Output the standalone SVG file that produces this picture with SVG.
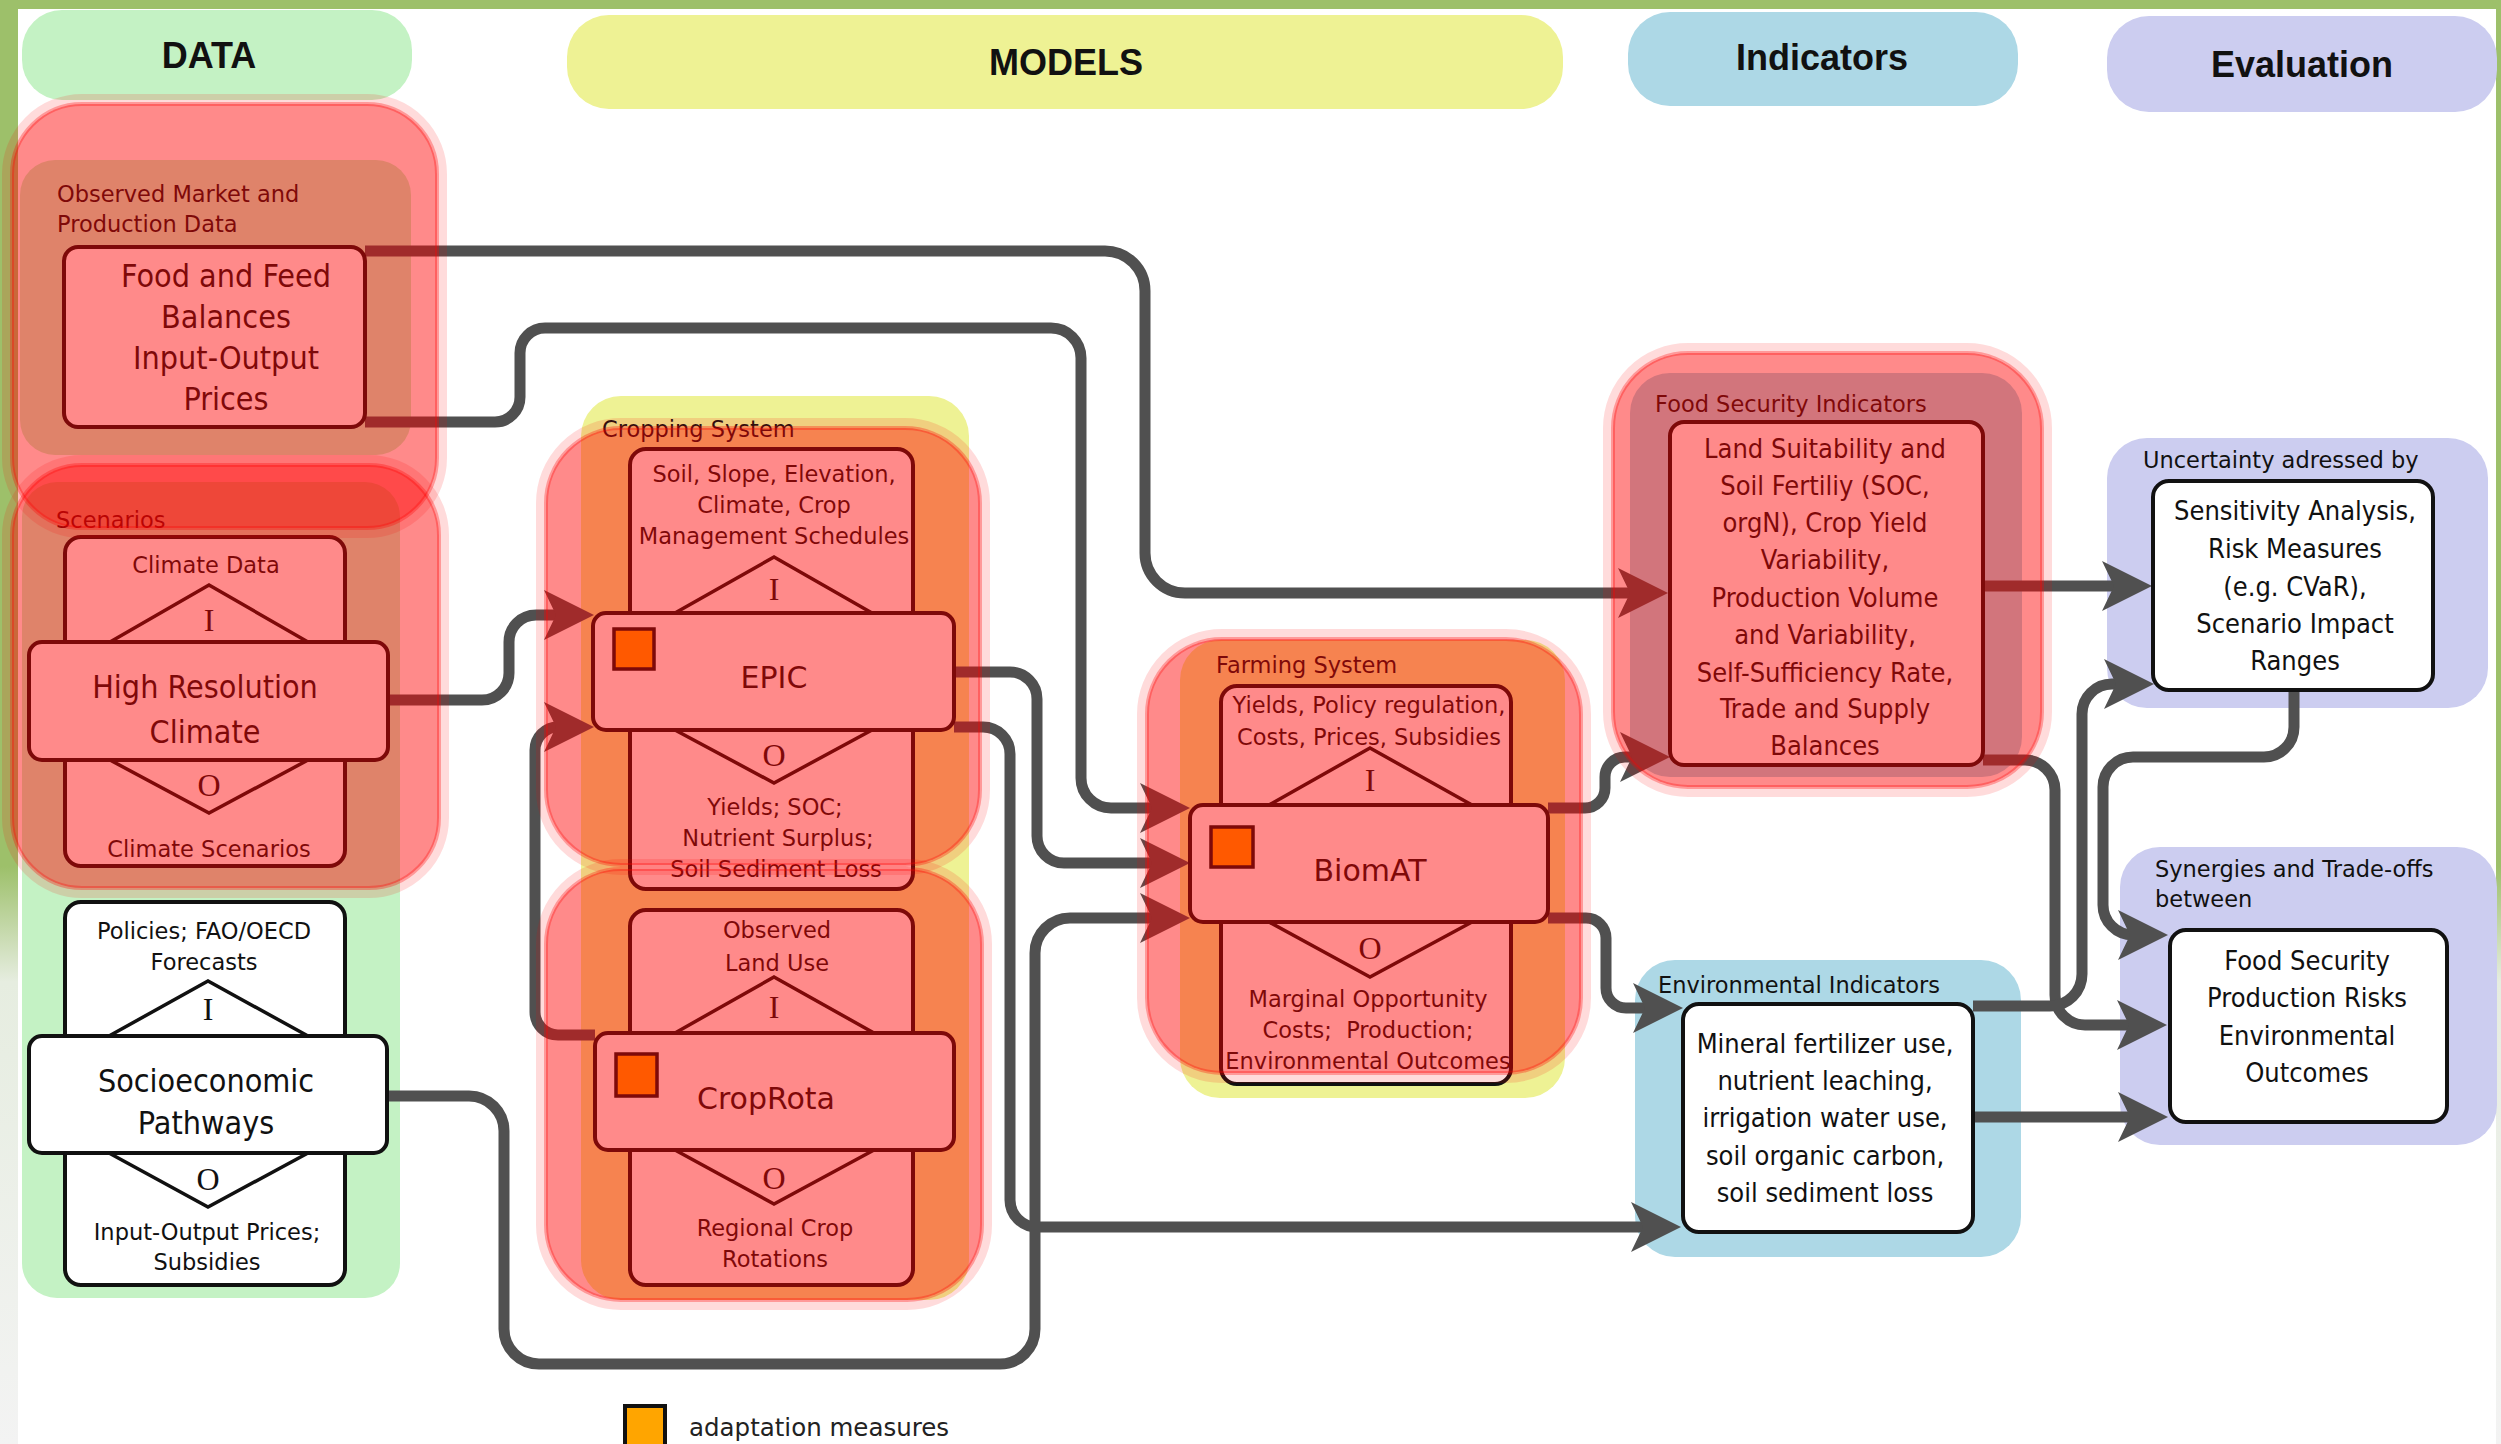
<svg xmlns="http://www.w3.org/2000/svg" width="2501" height="1444" viewBox="0 0 2501 1444">
<defs>
<style>
.hdr{font-family:"Liberation Sans",Arial,sans-serif;font-weight:bold;font-size:36px;fill:#111;text-anchor:middle}
.grp{font-family:"DejaVu Sans",Verdana,sans-serif;font-size:22.5px;fill:#111}
.sm{font-family:"DejaVu Sans",Verdana,sans-serif;font-size:22.5px;fill:#111;text-anchor:middle}
.big{font-family:"DejaVu Sans Condensed","DejaVu Sans",sans-serif;font-stretch:condensed;font-size:32px;fill:#111;text-anchor:middle}
.mdl{font-family:"DejaVu Sans",Verdana,sans-serif;font-size:30px;fill:#111;text-anchor:middle}
.ind{font-family:"DejaVu Sans Condensed","DejaVu Sans",sans-serif;font-stretch:condensed;font-size:27px;fill:#111;text-anchor:middle}
.io{font-family:"Liberation Serif","Times New Roman",serif;font-size:32px;fill:#111;text-anchor:middle}
.leg{font-family:"DejaVu Sans",Verdana,sans-serif;font-size:24.5px;fill:#222}
.box{fill:#fff;stroke:#111;stroke-width:4}
.tri{fill:#fff;stroke:#111;stroke-width:3.5}
.sq{fill:#ffa500;stroke:#111;stroke-width:3.5}
.conn{fill:none;stroke:#505050;stroke-width:11;marker-end:url(#arr)}
.hl{fill:#ff0000;fill-opacity:.46;stroke:#ff0000;stroke-opacity:.3;stroke-width:4}
.halo{fill:none;stroke:#ff0000;stroke-opacity:.14;stroke-width:10}
.green{fill:#c4f2c4}
.yellow{fill:#eef294}
.blue{fill:#add8e6}
.purple{fill:#cccdf0}
</style>
<linearGradient id="strip" x1="0" y1="0" x2="0" y2="1">
<stop offset="0" stop-color="#9dc06a"/>
<stop offset="0.6" stop-color="#9dc06a"/>
<stop offset="0.68" stop-color="#e6ede0"/>
<stop offset="1" stop-color="#f3f3f3"/>
</linearGradient>
<marker id="arr" markerUnits="userSpaceOnUse" markerWidth="60" markerHeight="60" viewBox="0 0 60 60" refX="20" refY="30" orient="auto">
<path d="M50,30 L0,5 L12,30 L0,55 Z" fill="#505050"/>
</marker>
</defs>

<g id="frame">
<rect x="0" y="0" width="2501" height="1444" fill="#ffffff"/>
<rect x="0" y="0" width="18" height="1444" fill="url(#strip)"/>
<rect x="2496" y="0" width="5" height="1444" fill="url(#strip)"/>
<rect x="0" y="0" width="2501" height="9" fill="#9dc06a"/>
</g>

<g id="lanes">
<rect class="green" x="22" y="10" width="390" height="90" rx="40"/>
<text class="hdr" x="209" y="68">DATA</text>
<rect class="yellow" x="567" y="15" width="996" height="94" rx="42"/>
<text class="hdr" x="1066" y="75">MODELS</text>
<rect class="blue" x="1628" y="12" width="390" height="94" rx="42"/>
<text class="hdr" x="1822" y="70">Indicators</text>
<rect class="purple" x="2107" y="16" width="390" height="96" rx="42"/>
<text class="hdr" x="2302" y="77">Evaluation</text>
</g>

<g id="containers">
<rect class="green" x="20" y="160" width="391" height="295" rx="35"/>
<text class="grp" x="57" y="202">Observed Market and</text>
<text class="grp" x="57" y="232">Production Data</text>
<rect class="green" x="22" y="482" width="378" height="816" rx="35"/>
<text class="grp" x="56" y="528">Scenarios</text>
<rect class="yellow" x="581" y="396" width="388" height="904" rx="40"/>
<text class="grp" x="602" y="437">Cropping System</text>
<rect class="yellow" x="1180" y="640" width="385" height="458" rx="40"/>
<text class="grp" x="1216" y="673">Farming System</text>
<rect class="blue" x="1630" y="373" width="392" height="404" rx="40"/>
<text class="grp" x="1655" y="412">Food Security Indicators</text>
<rect class="blue" x="1635" y="960" width="386" height="297" rx="40"/>
<text class="grp" x="1658" y="993">Environmental Indicators</text>
<rect class="purple" x="2107" y="438" width="381" height="270" rx="40"/>
<text class="grp" x="2143" y="468">Uncertainty adressed by</text>
<rect class="purple" x="2120" y="847" width="377" height="298" rx="40"/>
<text class="grp" x="2155" y="877">Synergies and Trade-offs</text>
<text class="grp" x="2155" y="907">between</text>
</g>

<g id="connectors">
<path class="conn" d="M365,251 H1105 A40,40 0 0 1 1145,291 V553 A40,40 0 0 0 1185,593 H1638"/>
<path class="conn" d="M365,422 H495 A25,25 0 0 0 520,397 V353 A25,25 0 0 1 545,328 H1051 A30,30 0 0 1 1081,358 V778 A30,30 0 0 0 1111,808 H1160"/>
<path class="conn" d="M389,700 H482 A27,27 0 0 0 509,673 V642 A27,27 0 0 1 536,615 H564"/>
<path class="conn" d="M595,1035 H558 A23,23 0 0 1 535,1012 V750 A23,23 0 0 1 558,727 H564"/>
<path class="conn" d="M954,672 H1010 A27,27 0 0 1 1037,699 V836 A27,27 0 0 0 1064,863 H1160"/>
<path class="conn" d="M954,727 H983 A27,27 0 0 1 1010,754 V1200 A27,27 0 0 0 1037,1227 H1651"/>
<path class="conn" d="M388,1096 H469 A35,35 0 0 1 504,1131 V1329 A35,35 0 0 0 539,1364 H1000 A35,35 0 0 0 1035,1329 V953 A35,35 0 0 1 1070,918 H1160"/>
<path class="conn" d="M1548,808 H1585 A20,20 0 0 0 1605,788 V777 A20,20 0 0 1 1625,757 H1640"/>
<path class="conn" d="M1548,918 H1586 A20,20 0 0 1 1606,938 V988 A20,20 0 0 0 1626,1008 H1653"/>
<path class="conn" d="M1983,586 H2122"/>
<path class="conn" d="M1983,760 H2025 A30,30 0 0 1 2055,790 V995 A30,30 0 0 0 2085,1025 H2137"/>
<path class="conn" d="M1973,1006 H2050 A32,32 0 0 0 2082,974 V714 A30,30 0 0 1 2112,684 H2124"/>
<path class="conn" d="M2294,690 V727 A30,30 0 0 1 2264,757 H2133 A30,30 0 0 0 2103,787 V905 A30,30 0 0 0 2133,935 H2138"/>
<path class="conn" d="M1975,1117 H2138"/>
</g>

<g id="node-food-feed">
<rect class="box" x="64" y="247" width="301" height="180" rx="14"/>
<text class="big" x="226" y="287">Food and Feed</text>
<text class="big" x="226" y="328">Balances</text>
<text class="big" x="226" y="369">Input-Output</text>
<text class="big" x="226" y="410">Prices</text>
</g>

<g id="node-climate">
<rect class="box" x="65" y="537" width="280" height="329" rx="16"/>
<polyline class="tri" points="110,642 209,585 308,642"/>
<polyline class="tri" points="110,760 209,813 308,760"/>
<rect class="box" x="29" y="642" width="359" height="118" rx="13"/>
<text class="sm" x="206" y="573">Climate Data</text>
<text class="io" x="209" y="631">I</text>
<text class="big" x="205" y="698">High Resolution</text>
<text class="big" x="205" y="743">Climate</text>
<text class="io" x="209" y="796">O</text>
<text class="sm" x="209" y="857">Climate Scenarios</text>
</g>

<g id="node-socio">
<rect class="box" x="65" y="902" width="280" height="383" rx="16"/>
<polyline class="tri" points="109,1036 208,981 308,1036"/>
<polyline class="tri" points="109,1153 208,1207 308,1153"/>
<rect class="box" x="29" y="1036" width="358" height="117" rx="13"/>
<text class="sm" x="204" y="939">Policies; FAO/OECD</text>
<text class="sm" x="204" y="970">Forecasts</text>
<text class="io" x="208" y="1020">I</text>
<text class="big" x="206" y="1092">Socioeconomic</text>
<text class="big" x="206" y="1134">Pathways</text>
<text class="io" x="208" y="1190">O</text>
<text class="sm" x="207" y="1240">Input-Output Prices;</text>
<text class="sm" x="207" y="1270">Subsidies</text>
</g>

<g id="node-epic">
<rect class="box" x="630" y="449" width="283" height="440" rx="16"/>
<polyline class="tri" points="675,613 774,557 872,613"/>
<polyline class="tri" points="675,730 774,783 872,730"/>
<rect class="box" x="593" y="613" width="361" height="117" rx="13"/>
<rect class="sq" x="614" y="629" width="40" height="40"/>
<text class="sm" x="774" y="482">Soil, Slope, Elevation,</text>
<text class="sm" x="774" y="513">Climate, Crop</text>
<text class="sm" x="774" y="544">Management Schedules</text>
<text class="io" x="774" y="600">I</text>
<text class="mdl" x="774" y="688">EPIC</text>
<text class="io" x="774" y="766">O</text>
<text class="sm" x="775" y="815">Yields; SOC;</text>
<text class="sm" x="778" y="846">Nutrient Surplus;</text>
<text class="sm" x="776" y="877">Soil Sediment Loss</text>
</g>

<g id="node-croprota">
<rect class="box" x="630" y="910" width="283" height="375" rx="16"/>
<polyline class="tri" points="675,1033 774,977 874,1033"/>
<polyline class="tri" points="675,1150 774,1204 874,1150"/>
<rect class="box" x="595" y="1033" width="359" height="117" rx="13"/>
<rect class="sq" x="616" y="1054" width="41" height="42"/>
<text class="sm" x="777" y="938">Observed</text>
<text class="sm" x="777" y="971">Land Use</text>
<text class="io" x="774" y="1018">I</text>
<text class="mdl" x="766" y="1109">CropRota</text>
<text class="io" x="774" y="1189">O</text>
<text class="sm" x="775" y="1236">Regional Crop</text>
<text class="sm" x="775" y="1267">Rotations</text>
</g>

<g id="node-biomat">
<rect class="box" x="1221" y="686" width="290" height="398" rx="16"/>
<polyline class="tri" points="1269,805 1370,748 1472,805"/>
<polyline class="tri" points="1269,922 1370,977 1472,922"/>
<rect class="box" x="1190" y="805" width="358" height="117" rx="13"/>
<rect class="sq" x="1211" y="827" width="42" height="40"/>
<text class="sm" x="1369" y="713">Yields, Policy regulation,</text>
<text class="sm" x="1369" y="745">Costs, Prices, Subsidies</text>
<text class="io" x="1370" y="791">I</text>
<text class="mdl" x="1370" y="881">BiomAT</text>
<text class="io" x="1370" y="959">O</text>
<text class="sm" x="1368" y="1007">Marginal Opportunity</text>
<text class="sm" x="1368" y="1038" xml:space="preserve">Costs;  Production;</text>
<text class="sm" x="1368" y="1069">Environmental Outcomes</text>
</g>

<g id="node-food-security">
<rect class="box" x="1670" y="422" width="313" height="343" rx="14"/>
<text class="ind" x="1825" y="458">Land Suitability and</text>
<text class="ind" x="1825" y="495">Soil Fertiliy (SOC,</text>
<text class="ind" x="1825" y="532">orgN), Crop Yield</text>
<text class="ind" x="1825" y="569">Variability,</text>
<text class="ind" x="1825" y="607">Production Volume</text>
<text class="ind" x="1825" y="644">and Variability,</text>
<text class="ind" x="1825" y="682">Self-Sufficiency Rate,</text>
<text class="ind" x="1825" y="718">Trade and Supply</text>
<text class="ind" x="1825" y="755">Balances</text>
</g>

<g id="node-environmental">
<rect class="box" x="1683" y="1004" width="290" height="228" rx="16"/>
<text class="ind" x="1825" y="1053">Mineral fertilizer use,</text>
<text class="ind" x="1825" y="1090">nutrient leaching,</text>
<text class="ind" x="1825" y="1127">irrigation water use,</text>
<text class="ind" x="1825" y="1165">soil organic carbon,</text>
<text class="ind" x="1825" y="1202">soil sediment loss</text>
</g>

<g id="node-sensitivity">
<rect class="box" x="2153" y="481" width="280" height="209" rx="16"/>
<text class="ind" x="2295" y="520">Sensitivity Analysis,</text>
<text class="ind" x="2295" y="558">Risk Measures</text>
<text class="ind" x="2295" y="596">(e.g. CVaR),</text>
<text class="ind" x="2295" y="633">Scenario Impact</text>
<text class="ind" x="2295" y="670">Ranges</text>
</g>

<g id="node-synergies">
<rect class="box" x="2170" y="930" width="277" height="192" rx="16"/>
<text class="ind" x="2307" y="970">Food Security</text>
<text class="ind" x="2307" y="1007">Production Risks</text>
<text class="ind" x="2307" y="1045">Environmental</text>
<text class="ind" x="2307" y="1082">Outcomes</text>
</g>

<g id="highlights">
<rect class="halo" x="7" y="99" width="435" height="434" rx="75"/>
<rect class="hl" x="12" y="104" width="425" height="424" rx="70"/>
<rect class="halo" x="7" y="460" width="437" height="433" rx="75"/>
<rect class="hl" x="12" y="465" width="427" height="423" rx="70"/>
<rect class="halo" x="541" y="423" width="444" height="447" rx="80"/>
<rect class="hl" x="546" y="428" width="434" height="437" rx="75"/>
<rect class="halo" x="541" y="864" width="446" height="441" rx="80"/>
<rect class="hl" x="546" y="869" width="436" height="431" rx="75"/>
<rect class="halo" x="1142" y="634" width="444" height="444" rx="80"/>
<rect class="hl" x="1147" y="639" width="434" height="434" rx="75"/>
<rect class="halo" x="1608" y="348" width="439" height="444" rx="80"/>
<rect class="hl" x="1613" y="353" width="429" height="434" rx="75"/>
</g>

<g id="legend">
<rect class="sq" x="625" y="1406" width="40" height="44" style="stroke-width:4"/>
<text class="leg" x="689" y="1436">adaptation measures</text>
</g>
</svg>
